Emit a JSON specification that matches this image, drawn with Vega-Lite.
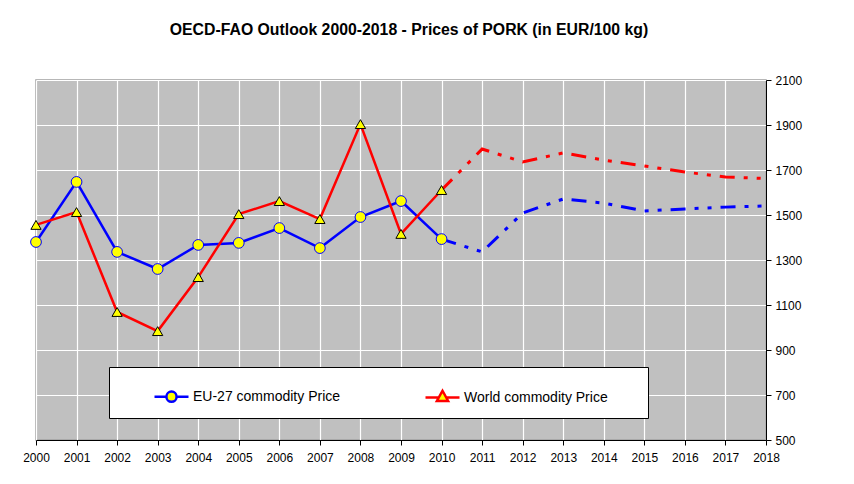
{
  "$schema": "https://vega.github.io/schema/vega-lite/v6.json",
  "width": 730,
  "height": 360,
  "autosize": {"type": "none"},
  "padding": {"left": 36, "top": 80, "right": 88, "bottom": 44},
  "background": "white",
  "config": {
    "font": "Liberation Sans",
    "view": {"fill": "#C0C0C0", "stroke": "#A0A0A0", "strokeWidth": 1.5}
  },
  "title": {
    "text": "OECD-FAO Outlook 2000-2018 - Prices of PORK (in EUR/100 kg)",
    "font": "Liberation Sans",
    "fontSize": 15.8,
    "fontWeight": "bold",
    "color": "#000000",
    "anchor": "middle",
    "frame": "group",
    "baseline": "alphabetic",
    "dx": 8,
    "offset": 23
  },
  "data": {
    "values": [
      {"year": 2000, "series": "EU-27 commodity Price", "value": 1380},
      {"year": 2001, "series": "EU-27 commodity Price", "value": 1647},
      {"year": 2002, "series": "EU-27 commodity Price", "value": 1336},
      {"year": 2003, "series": "EU-27 commodity Price", "value": 1260},
      {"year": 2004, "series": "EU-27 commodity Price", "value": 1367},
      {"year": 2005, "series": "EU-27 commodity Price", "value": 1376},
      {"year": 2006, "series": "EU-27 commodity Price", "value": 1442},
      {"year": 2007, "series": "EU-27 commodity Price", "value": 1353},
      {"year": 2008, "series": "EU-27 commodity Price", "value": 1491},
      {"year": 2009, "series": "EU-27 commodity Price", "value": 1562},
      {"year": 2010, "series": "EU-27 commodity Price", "value": 1393},
      {"year": 2011, "series": "EU-27 commodity Price", "value": 1336},
      {"year": 2012, "series": "EU-27 commodity Price", "value": 1509},
      {"year": 2013, "series": "EU-27 commodity Price", "value": 1571},
      {"year": 2014, "series": "EU-27 commodity Price", "value": 1553},
      {"year": 2015, "series": "EU-27 commodity Price", "value": 1518},
      {"year": 2016, "series": "EU-27 commodity Price", "value": 1527},
      {"year": 2017, "series": "EU-27 commodity Price", "value": 1535},
      {"year": 2018, "series": "EU-27 commodity Price", "value": 1540},
      {"year": 2000, "series": "World commodity Price", "value": 1456},
      {"year": 2001, "series": "World commodity Price", "value": 1513},
      {"year": 2002, "series": "World commodity Price", "value": 1069},
      {"year": 2003, "series": "World commodity Price", "value": 984},
      {"year": 2004, "series": "World commodity Price", "value": 1224},
      {"year": 2005, "series": "World commodity Price", "value": 1504},
      {"year": 2006, "series": "World commodity Price", "value": 1562},
      {"year": 2007, "series": "World commodity Price", "value": 1482},
      {"year": 2008, "series": "World commodity Price", "value": 1904},
      {"year": 2009, "series": "World commodity Price", "value": 1416},
      {"year": 2010, "series": "World commodity Price", "value": 1611},
      {"year": 2011, "series": "World commodity Price", "value": 1793},
      {"year": 2012, "series": "World commodity Price", "value": 1736},
      {"year": 2013, "series": "World commodity Price", "value": 1776},
      {"year": 2014, "series": "World commodity Price", "value": 1744},
      {"year": 2015, "series": "World commodity Price", "value": 1718},
      {"year": 2016, "series": "World commodity Price", "value": 1691},
      {"year": 2017, "series": "World commodity Price", "value": 1669},
      {"year": 2018, "series": "World commodity Price", "value": 1662}
    ]
  },
  "encoding": {
    "x": {
      "field": "year",
      "type": "quantitative",
      "scale": {"domain": [2000, 2018], "nice": false, "zero": false},
      "axis": {
        "title": null,
        "values": [2000,2001,2002,2003,2004,2005,2006,2007,2008,2009,2010,2011,2012,2013,2014,2015,2016,2017,2018],
        "format": "d",
        "grid": true,
        "gridColor": "#FFFFFF",
        "gridWidth": 1.2,
        "domainColor": "#000000",
        "domainWidth": 1,
        "tickColor": "#000000",
        "tickSize": 5,
        "labelFontSize": 12,
        "labelColor": "#000000",
        "labelPadding": 7,
        "labelFlush": false,
        "labelOverlap": false
      }
    },
    "y": {
      "field": "value",
      "type": "quantitative",
      "scale": {"domain": [500, 2100], "nice": false, "zero": false},
      "axis": {
        "title": null,
        "orient": "right",
        "values": [500,700,900,1100,1300,1500,1700,1900,2100],
        "format": "d",
        "grid": true,
        "gridColor": "#FFFFFF",
        "gridWidth": 1.2,
        "domainColor": "#000000",
        "domainWidth": 1,
        "tickColor": "#000000",
        "tickSize": 5,
        "labelFontSize": 12,
        "labelColor": "#000000",
        "labelPadding": 4,
        "labelFlush": false,
        "labelOverlap": false
      }
    }
  },
  "layer": [
    {
      "transform": [{"filter": "datum.year <= 2010"}],
      "mark": {"type": "line", "strokeWidth": 2.5},
      "encoding": {
        "color": {
          "field": "series",
          "type": "nominal",
          "scale": {"domain": ["EU-27 commodity Price", "World commodity Price"], "range": ["#0000FF", "#FF0000"]},
          "legend": {
            "title": "\u00a0",
            "titleOrient": "right",
            "titleFontSize": 2,
            "titlePadding": 29,
            "orient": "none",
            "legendX": 73,
            "legendY": 287,
            "direction": "horizontal",
            "fillColor": "#FFFFFF",
            "strokeColor": "#000000",
            "padding": 11,
            "symbolSize": 1156,
            "symbolStrokeWidth": 2.5,
            "symbolOffset": 33,
            "labelOffset": 3,
            "columnPadding": 50,
            "labelFontSize": 14,
            "labelColor": "#000000",
            "labelFont": "Liberation Sans",
            "encode": {
              "symbols": {
                "update": {
                  "shape": {"signal": "datum.value === 'EU-27 commodity Price' ? 'M-1,0H-0.3M0.3,0H1M-0.3,0A0.3,0.3,0,1,0,0.3,0A0.3,0.3,0,1,0,-0.3,0Z' : 'M-1,0H-0.22M0.22,0H1M0,-0.4L0.33,0.2L-0.33,0.2Z'"},
                  "fill": {"value": "#FFFF00"},
                  "fillOpacity": {"value": 1},
                  "strokeDash": {"value": []}
                }
              }
            }
          }
        }
      }
    },
    {
      "transform": [{"filter": "datum.year >= 2010"}],
      "mark": {"type": "line", "strokeWidth": 3, "strokeDash": [15, 9, 4, 9, 4, 9]},
      "encoding": {
        "color": {"field": "series", "type": "nominal", "legend": null}
      }
    },
    {
      "transform": [{"filter": "datum.year <= 2010 && datum.series === 'EU-27 commodity Price'"}],
      "mark": {"type": "point", "shape": "circle", "filled": true, "fill": "#FFFF00", "fillOpacity": 1, "stroke": "#0000FF", "strokeWidth": 1, "size": 115, "opacity": 1},
      "encoding": {}
    },
    {
      "transform": [{"filter": "datum.year <= 2010 && datum.series === 'World commodity Price'"}],
      "mark": {"type": "point", "shape": "triangle-up", "filled": true, "fill": "#FFFF00", "fillOpacity": 1, "stroke": "#000000", "strokeWidth": 1, "size": 105, "opacity": 1},
      "encoding": {}
    }
  ]
}
